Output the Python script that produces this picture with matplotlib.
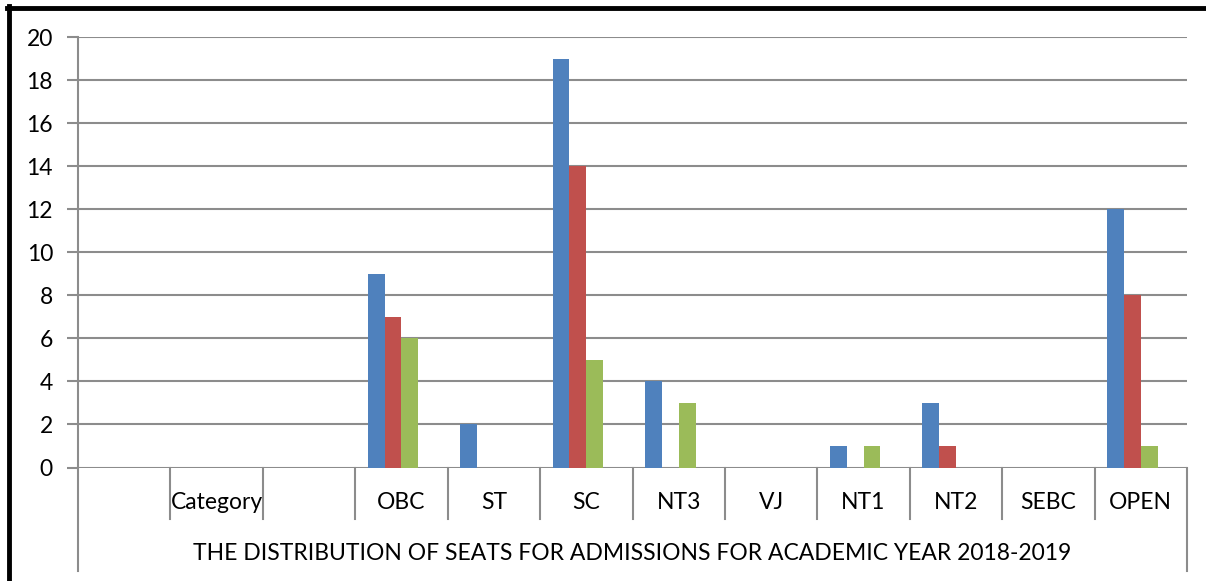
import matplotlib

matplotlib.use("Agg")
import matplotlib.pyplot as plt
from matplotlib.lines import Line2D
import numpy as np

plt.rcParams["font.family"] = ["Lato", "DejaVu Sans"]

# category labels, first level (the blank slots are empty cells in the sheet)
categories = ["", "Category", "", "OBC", "ST", "SC", "NT3", "VJ", "NT1", "NT2", "SEBC", "OPEN"]
group_label = "THE DISTRIBUTION OF SEATS FOR ADMISSIONS FOR ACADEMIC YEAR 2018-2019"

# series values per category
series_1 = [0, 0, 0, 9, 2, 19, 4, 0, 1, 3, 0, 12]
series_2 = [0, 0, 0, 7, 0, 14, 0, 0, 0, 1, 0, 8]
series_3 = [0, 0, 0, 6, 0, 5, 3, 0, 1, 0, 0, 1]
series_4 = [0, 0, 0, 0, 0, 0, 0, 0, 0, 0, 0, 0]

y_ticks = [0, 2, 4, 6, 8, 10, 12, 14, 16, 18, 20]

colors = ["#4F81BD", "#C0504D", "#9BBB59", "#8064A2"]
grid_color = "#8C8C8C"
fs = 16.5

W, H = 1206, 581
fig = plt.figure(figsize=(W / 100, H / 100), dpi=100)
fig.patch.set_facecolor("white")

# plot area in pixels
left, right, top, bottom = 78, 1187, 37.3, 467.5
ax = fig.add_axes([left / W, 1 - bottom / H, (right - left) / W, (bottom - top) / H])

all_series = [series_1, series_2, series_3, series_4]
x = np.arange(len(categories))
width = 1 / (len(all_series) + 1.5)  # Excel gap width 150%
for k, (vals, c) in enumerate(zip(all_series, colors)):
    ax.bar(x + (k - (len(all_series) - 1) / 2) * width, vals, width, color=c,
           edgecolor="none", zorder=3)

ax.set_xlim(-0.5, len(categories) - 0.5)
ax.set_ylim(0, 20)
ax.set_yticks(y_ticks)
ax.yaxis.grid(True, color=grid_color, linewidth=1.5, zorder=0)
ax.tick_params(axis="y", length=8, width=1.5, color=grid_color, labelsize=fs, pad=10,
               labelcolor="black")
ax.set_xticks([])

for side in ["top", "right", "bottom"]:
    ax.spines[side].set_visible(False)
ax.spines["left"].set_color(grid_color)
ax.spines["left"].set_linewidth(1.5)

# multi-level category axis drawn under the plot
ph = bottom - top
lvl1 = -51 / ph
lvl2 = -103 / ph
trans = ax.get_xaxis_transform()
for i in range(len(categories) + 1):
    b = i - 0.5
    low = lvl2 if i in (0, len(categories)) else lvl1
    ax.plot([b, b], [0, low], color=grid_color, linewidth=1.5, transform=trans,
            clip_on=False)
for i, lab in enumerate(categories):
    ax.text(i, -35 / ph, lab, transform=trans, ha="center", va="center", fontsize=fs)
ax.text((len(categories) - 1) / 2, -86 / ph, group_label, transform=trans,
        ha="center", va="center", fontsize=fs)

# cropped chart border (thick black frame on left and top)
fig.add_artist(Line2D([9 / W, 9 / W], [0, 1 - 6 / H], color="black", linewidth=3.5,
                      transform=fig.transFigure))
fig.add_artist(Line2D([7 / W, 1], [1 - 8 / H, 1 - 8 / H], color="black", linewidth=3.5,
                      transform=fig.transFigure))

fig.savefig("out.png", dpi=100)
